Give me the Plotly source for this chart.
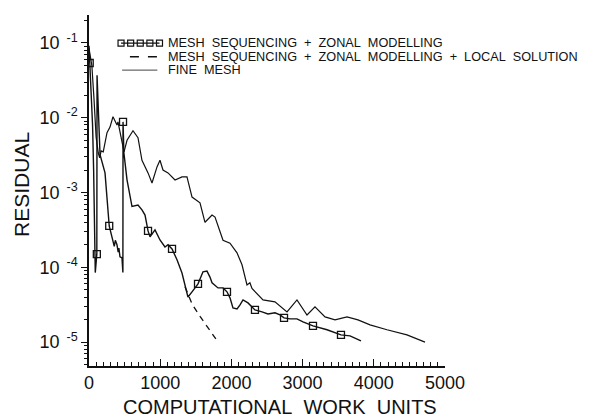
import plotly.graph_objects as go

# ---------------- data ----------------
seq_x = [0, 10, 30, 50, 65, 78, 88, 110, 113, 155, 225, 284, 337, 355, 370, 393, 410, 420,
         435, 463, 476, 478, 490, 534, 604, 688, 744, 787, 829, 857, 927, 997, 1067, 1110,
         1166, 1236, 1306, 1348, 1390, 1447, 1531, 1601, 1657, 1699, 1728, 1812, 1882, 1938,
         1980, 2022, 2079, 2121, 2163, 2233, 2331, 2430, 2514, 2612, 2683, 2739, 2823, 2921,
         3006, 3146, 3343, 3539, 3666, 3820]
seq_y = [0.092, 0.054, 0.025, 8e-3, 2e-3, 4e-4, 8.5e-5, 1.5e-4, 0.037, 3.2e-3, 1.83e-3,
         3.57e-4, 2.3e-4, 1.9e-4, 2.3e-4, 2.0e-4, 1.6e-4, 1.8e-4, 1.38e-4, 1.34e-4, 8.5e-5,
         8.8e-3, 3.4e-3, 1.48e-3, 6.5e-4, 6.8e-4, 5.85e-4, 5.0e-4, 3.07e-4, 2.55e-4, 3.16e-4,
         2.32e-4, 1.87e-4, 2.0e-4, 1.76e-4, 1.26e-4, 8.4e-5, 5.5e-5, 4.0e-5, 4.7e-5, 6.0e-5,
         8.7e-5, 8.9e-5, 7.4e-5, 6.2e-5, 5.3e-5, 5.3e-5, 4.7e-5, 3.9e-5, 2.86e-5, 2.78e-5,
         3.14e-5, 3.66e-5, 3.34e-5, 2.69e-5, 2.53e-5, 2.38e-5, 2.46e-5, 2.31e-5, 2.11e-5,
         2.04e-5, 2.04e-5, 1.86e-5, 1.65e-5, 1.46e-5, 1.25e-5, 1.21e-5, 1.04e-5]

seq_marker_x = [10, 110, 284, 478, 829, 1166, 1531, 1938, 2331, 2739, 3146, 3539]
seq_marker_y = [0.054, 1.5e-4, 3.57e-4, 8.8e-3, 3.07e-4, 1.76e-4, 6.0e-5, 4.7e-5, 2.69e-5,
                2.11e-5, 1.65e-5, 1.25e-5]

local_x = [1348, 1450, 1560, 1690, 1812]
local_y = [5.5e-5, 3.2e-5, 2.2e-5, 1.45e-5, 1.0e-5]

fine_x = [0, 40, 70, 100, 130, 150, 170, 200, 253, 295, 337, 393, 407, 463, 492, 534, 618,
          688, 744, 829, 885, 955, 997, 1039, 1110, 1208, 1306, 1376, 1447, 1559, 1629, 1728,
          1770, 1882, 1980, 2079, 2149, 2219, 2260, 2289, 2444, 2612, 2781, 2921, 3062, 3174,
          3315, 3455, 3624, 3778, 3947, 4185, 4466, 4719]
fine_y = [0.085, 0.05, 0.018, 5.5e-3, 3.4e-3, 2.9e-3, 3.6e-3, 3.5e-3, 6.3e-3, 7.5e-3,
          1.03e-2, 8.0e-3, 8.8e-3, 5.0e-3, 3.5e-3, 5.0e-3, 6.7e-3, 5.4e-3, 2.7e-3, 1.83e-3,
          1.34e-3, 2.2e-3, 2.7e-3, 2.0e-3, 1.83e-3, 1.47e-3, 1.62e-3, 1.62e-3, 8.7e-4, 7.3e-4,
          4.0e-4, 5.0e-4, 4.7e-4, 2.3e-4, 2.1e-4, 1.56e-4, 1.08e-4, 5.8e-5, 6.2e-5, 5.2e-5,
          3.66e-5, 3.45e-5, 2.53e-5, 3.66e-5, 2.3e-5, 2.96e-5, 2.17e-5, 1.98e-5, 2.17e-5,
          1.98e-5, 1.7e-5, 1.46e-5, 1.25e-5, 1.0e-5]

x_ticks = [0, 1000, 2000, 3000, 4000, 5000]
y_ticks = [1e-5, 1e-4, 1e-3, 1e-2, 1e-1]
y_ticktext = ["10<sup>\u00a0\u00a0-5</sup>", "10<sup>\u00a0\u00a0-4</sup>",
              "10<sup>\u00a0\u00a0-3</sup>", "10<sup>\u00a0\u00a0-2</sup>",
              "10<sup>\u00a0\u00a0-1</sup>"]

legend_labels = [
    "MESH\u00a0\u00a0SEQUENCING\u00a0\u00a0+\u00a0\u00a0ZONAL\u00a0\u00a0MODELLING",
    "MESH\u00a0\u00a0SEQUENCING\u00a0\u00a0+\u00a0\u00a0ZONAL\u00a0\u00a0MODELLING\u00a0\u00a0+\u00a0\u00a0LOCAL\u00a0\u00a0SOLUTION",
    "FINE\u00a0\u00a0MESH",
]

FONT = "Liberation Sans, Arial, sans-serif"
INK = "#111111"

fig = go.Figure()

fig.add_trace(go.Scatter(x=fine_x, y=fine_y, mode="lines",
                         line=dict(color=INK, width=1.2), showlegend=False))
fig.add_trace(go.Scatter(x=seq_x, y=seq_y, mode="lines",
                         line=dict(color=INK, width=1.4), showlegend=False))
fig.add_trace(go.Scatter(x=seq_marker_x, y=seq_marker_y, mode="markers",
                         marker=dict(symbol="square-open", size=7, color=INK,
                                     line=dict(width=1.3, color=INK)),
                         showlegend=False))
fig.add_trace(go.Scatter(x=local_x, y=local_y, mode="lines",
                         line=dict(color=INK, width=1.3, dash="6px,5px"), showlegend=False))

# ---- hand-made legend (samples on an invisible overlay axis) ----
row_y = [0.920, 0.881, 0.843]
fig.add_trace(go.Scatter(x=[0.090, 0.117, 0.144, 0.171, 0.198], y=[row_y[0]] * 5,
                         xaxis="x2", yaxis="y2", mode="lines+markers",
                         line=dict(color=INK, width=1.2),
                         marker=dict(symbol="square-open", size=6, color=INK,
                                     line=dict(width=1.2, color=INK)),
                         showlegend=False, hoverinfo="skip"))
fig.add_trace(go.Scatter(x=[0.115, 0.192], y=[row_y[1]] * 2, xaxis="x2", yaxis="y2",
                         mode="lines", line=dict(color=INK, width=1.3, dash="9px,9px"),
                         showlegend=False, hoverinfo="skip"))
fig.add_trace(go.Scatter(x=[0.093, 0.192], y=[row_y[2]] * 2, xaxis="x2", yaxis="y2",
                         mode="lines", line=dict(color="#444444", width=1.0),
                         showlegend=False, hoverinfo="skip"))

annotations = []
for lab, yy in zip(legend_labels, row_y):
    annotations.append(dict(text=lab, x=0.215, y=yy, xref="paper", yref="paper",
                            xanchor="left", yanchor="middle", showarrow=False,
                            font=dict(family=FONT, size=12.7, color=INK)))
annotations.append(dict(text="COMPUTATIONAL\u00a0\u00a0WORK\u00a0\u00a0UNITS",
                        x=0.537, y=-0.118, xref="paper", yref="paper",
                        xanchor="center", yanchor="middle", showarrow=False,
                        font=dict(family=FONT, size=20, color=INK)))
annotations.append(dict(text="RESIDUAL", x=-0.188, y=0.516, xref="paper", yref="paper",
                        xanchor="center", yanchor="middle", showarrow=False, textangle=-90,
                        font=dict(family=FONT, size=21, color=INK)))

fig.update_layout(
    width=596, height=418,
    margin=dict(l=89, r=151, t=15, b=52),
    paper_bgcolor="white", plot_bgcolor="white",
    font=dict(family=FONT, color=INK),
    showlegend=False,
    annotations=annotations,
    xaxis=dict(range=[0, 5000], showgrid=False, zeroline=False,
               showline=True, linecolor=INK, linewidth=1.5,
               ticks="inside", ticklen=7, tickwidth=1.2, tickcolor=INK,
               tickvals=x_ticks, ticktext=[str(v) for v in x_ticks],
               tickfont=dict(family=FONT, size=18, color=INK),
               minor=dict(ticks="inside", ticklen=4, tickwidth=1, tickcolor=INK,
                          dtick=100, showgrid=False)),
    yaxis=dict(type="log", range=[-5.32, -0.626], showgrid=False, zeroline=False,
               showline=True, linecolor=INK, linewidth=1.5,
               ticks="outside", ticklen=6, tickwidth=1.2, tickcolor=INK,
               tickvals=y_ticks, ticktext=y_ticktext,
               tickfont=dict(family=FONT, size=18, color=INK),
               minor=dict(ticks="outside", ticklen=3, tickwidth=1, tickcolor=INK,
                          dtick="D1", showgrid=False)),
    xaxis2=dict(overlaying="x", range=[0, 1], visible=False, fixedrange=True),
    yaxis2=dict(overlaying="y", range=[0, 1], visible=False, fixedrange=True),
)

fig.write_html("out.html")
